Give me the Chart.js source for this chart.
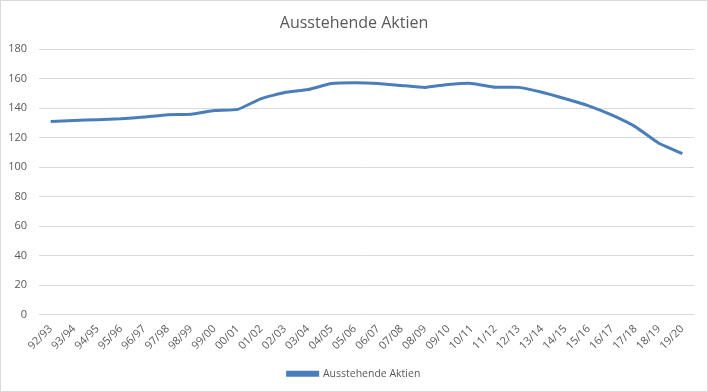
<!DOCTYPE html>
<html>
<head>
<meta charset="utf-8">
<script src="https://cdn.jsdelivr.net/npm/chart.js@4"></script>
<style>
  html, body { margin: 0; padding: 0; background: #fff; }
  #wrap { width: 708px; height: 392px; box-sizing: border-box; border: 1px solid #d9d9d9; position: relative; }
</style>
</head>
<body>
<div id="wrap"><canvas id="chart"></canvas></div>
<script>
const years = ['92/93','93/94','94/95','95/96','96/97','97/98','98/99','99/00','00/01','01/02',
  '02/03','03/04','04/05','05/06','06/07','07/08','08/09','09/10','10/11','11/12',
  '12/13','13/14','14/15','15/16','16/17','17/18','18/19','19/20'];
const aktien = [131, 131.6, 132.2, 132.8, 134, 135.6, 135.8, 138.4, 139.2, 146.5,
  150.6, 152.6, 156.7, 157.3, 156.8, 155.4, 154.1, 156.1, 156.8, 154.2,
  154.1, 150.8, 146.4, 141.6, 135.2, 127.3, 116.2, 109.2];
const yTicks = [0, 20, 40, 60, 80, 100, 120, 140, 160, 180];

const lineColor = '#4a7ebb';
const textColor = '#595959';
const fontFamily = "'Open Sans', 'Liberation Sans', sans-serif";

const ctx = document.getElementById('chart').getContext('2d');
const chart = new Chart(ctx, {
  type: 'line',
  data: {
    labels: years,
    datasets: [{
      label: 'Ausstehende Aktien',
      data: aktien,
      borderColor: lineColor,
      backgroundColor: lineColor,
      borderWidth: 3,
      pointRadius: 0,
      tension: 0.15
    }]
  },
  options: {
    responsive: true,
    maintainAspectRatio: false,
    animation: false,
    layout: { padding: { left: 0, right: 0, top: 11, bottom: 2 } },
    plugins: {
      title: {
        display: true,
        text: 'Ausstehende Aktien',
        color: textColor,
        font: { family: fontFamily, size: 16, weight: 'normal' },
        padding: { top: 2, bottom: 16 }
      },
      legend: {
        position: 'bottom',
        labels: {
          color: textColor,
          font: { family: fontFamily, size: 10.5 },
          boxWidth: 30,
          boxHeight: 3,
          padding: 8
        }
      },
      tooltip: { enabled: false }
    },
    scales: {
      x: {
        offset: true,
        grid: { display: false, drawTicks: false },
        border: { display: false },
        afterFit: (scale) => { scale.paddingLeft = 0; scale.paddingRight = 0; },
        ticks: {
          color: textColor,
          font: { family: fontFamily, size: 11 },
          minRotation: 45,
          maxRotation: 45,
          autoSkip: false,
          padding: 8
        }
      },
      y: {
        min: 0,
        max: 180,
        afterBuildTicks: (scale) => { scale.ticks = yTicks.map(v => ({ value: v })); },
        afterFit: (scale) => { scale.width = 38; },
        grid: { color: '#d9d9d9', drawTicks: false },
        border: { display: false },
        ticks: {
          color: textColor,
          font: { family: fontFamily, size: 11 },
          padding: 12
        }
      },
      // empty right axis, only reserves the margin right of the plot
      yRight: {
        position: 'right',
        grid: { display: false, drawTicks: false },
        border: { display: false },
        ticks: { display: false },
        afterFit: (scale) => { scale.width = 13; }
      }
    }
  }
});
</script>
</body>
</html>
